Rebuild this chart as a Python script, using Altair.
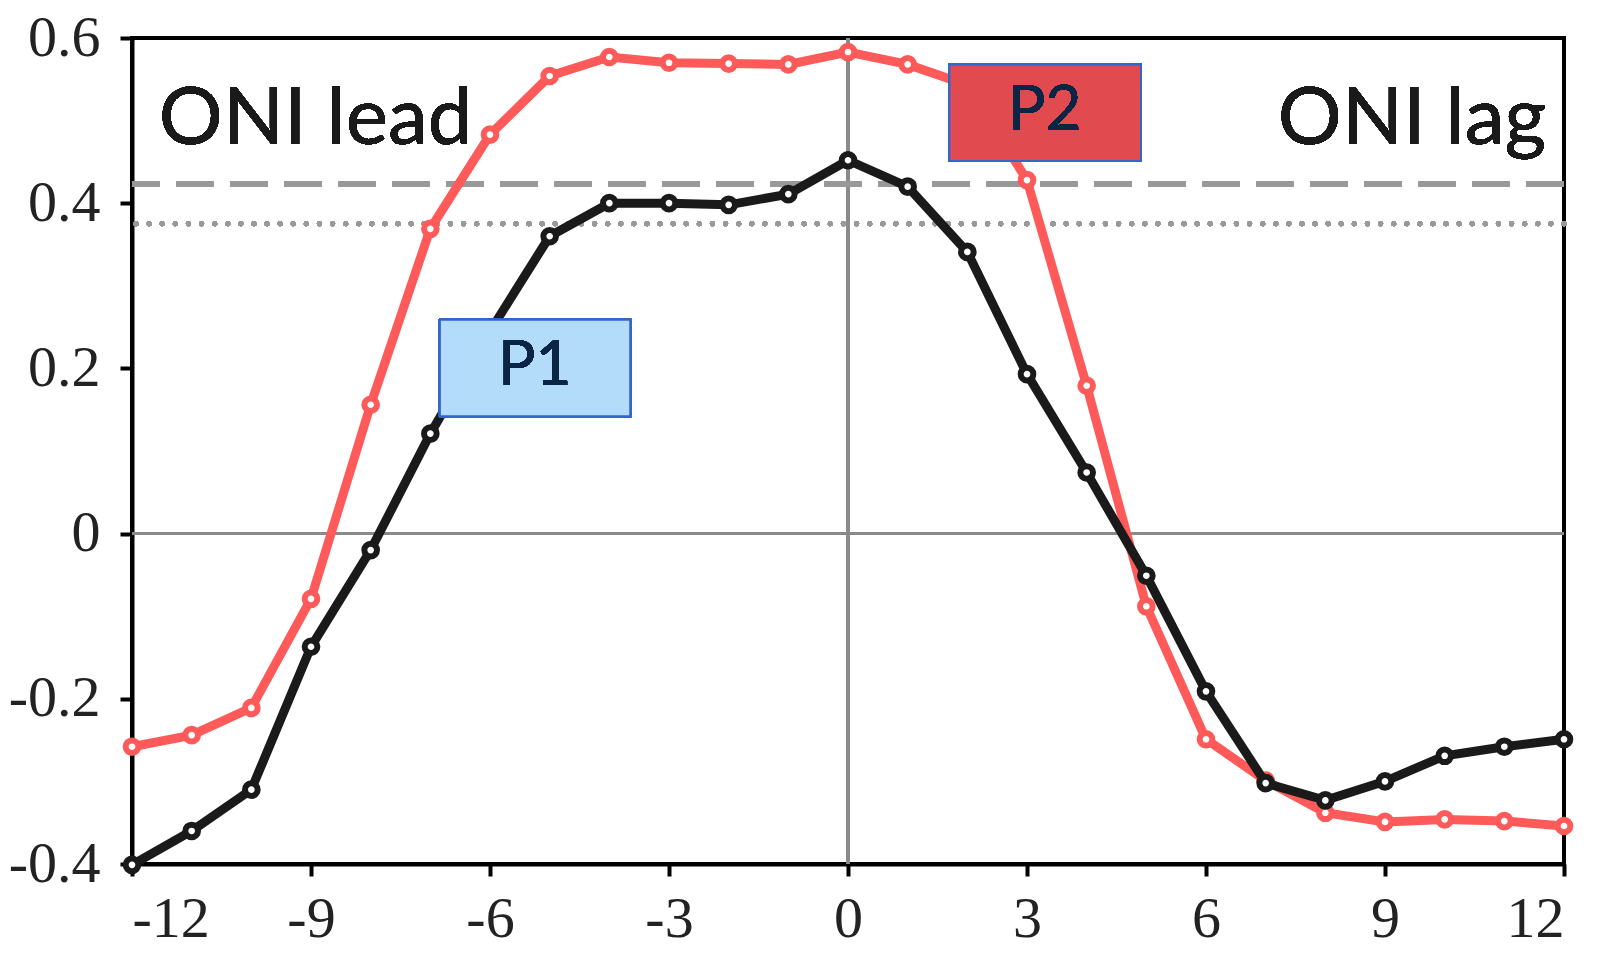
import altair as alt
import pandas as pd

lags = list(range(-12, 13))
red_vals = [-0.258, -0.244, -0.211, -0.079, 0.156, 0.369, 0.483, 0.554, 0.577, 0.570,
            0.569, 0.568, 0.583, 0.568, 0.543, 0.428, 0.179, -0.088, -0.249, -0.299,
            -0.338, -0.349, -0.346, -0.348, -0.354]
black_vals = [-0.401, -0.360, -0.310, -0.137, -0.020, 0.121, 0.245, 0.360, 0.400, 0.400,
              0.398, 0.411, 0.452, 0.420, 0.341, 0.193, 0.074, -0.051, -0.191, -0.302,
              -0.323, -0.300, -0.269, -0.258, -0.249]
dashed_level = 0.423
dotted_level = 0.375
x_ticks = [-12, -9, -6, -3, 0, 3, 6, 9, 12]
y_ticks = [-0.4, -0.2, 0, 0.2, 0.4, 0.6]

red_df = pd.DataFrame({"lag": lags, "corr": red_vals})
black_df = pd.DataFrame({"lag": lags, "corr": black_vals})

xscale = alt.Scale(domain=[-12, 12], nice=False, zero=False)
yscale = alt.Scale(domain=[-0.4, 0.6], nice=False, zero=False)

X = alt.X("lag:Q", scale=xscale, title=None,
          axis=alt.Axis(values=x_ticks, grid=False,
                        labelExpr="replace(format(datum.value, 'd'), '\u2212', '-')"))
Y = alt.Y("corr:Q", scale=yscale, title=None,
          axis=alt.Axis(values=y_ticks, grid=False,
                        labelExpr="datum.value == 0 ? '0' : replace(format(datum.value, '.1f'), '\u2212', '-')"))

RED = "#ff5a5a"
BLK = "#1a1a1a"

base_red = alt.Chart(red_df).encode(x=X, y=Y)
base_blk = alt.Chart(black_df).encode(x=X, y=Y)

zero_h = alt.Chart(red_df).mark_rule(color="#8a8a8a", strokeWidth=3).encode(y=alt.datum(0))
zero_v = alt.Chart(red_df).mark_rule(color="#8a8a8a", strokeWidth=3).encode(x=alt.datum(0))
dash_rule = alt.Chart(red_df).mark_rule(color="#999999", strokeWidth=5, strokeDash=[38, 16]).encode(y=alt.datum(dashed_level))
dot_rule = alt.Chart(red_df).mark_rule(color="#999999", strokeWidth=5, strokeDash=[0.1, 13], strokeCap="round").encode(y=alt.datum(dotted_level))

red_line = base_red.mark_line(color=RED, strokeWidth=9)
red_pts = base_red.mark_point(filled=True, fill="white", stroke=RED, strokeWidth=6, size=160, opacity=1)
blk_line = base_blk.mark_line(color=BLK, strokeWidth=9)
blk_pts = base_blk.mark_point(filled=True, fill="white", stroke=BLK, strokeWidth=6, size=160, opacity=1)

p1_box = alt.Chart(red_df).mark_rect(fill="#b3dcfb", stroke="#3366cc", strokeWidth=2).encode(
    x=alt.datum(-6.84), x2=alt.datum(-3.65), y=alt.datum(0.259), y2=alt.datum(0.142))
p2_box = alt.Chart(red_df).mark_rect(fill="#e04a4e", fillOpacity=0.88, stroke="#3366cc", strokeWidth=2).encode(
    x=alt.datum(1.70), x2=alt.datum(4.91), y=alt.datum(0.568), y2=alt.datum(0.451))

txt_kw = dict(font="Lato", color="#0b2545", fontSize=62, align="center", baseline="middle")
p1_txt = alt.Chart(red_df).mark_text(text="P1", **txt_kw).encode(x=alt.datum(-5.25), y=alt.datum(0.203))
p2_txt = alt.Chart(red_df).mark_text(text="P2", **txt_kw).encode(x=alt.datum(3.30), y=alt.datum(0.512))

lead_txt = alt.Chart(red_df).mark_text(text="ONI lead", font="Lato", fontSize=80, color="#1a1a1a",
                                        align="left", baseline="alphabetic").encode(
    x=alt.datum(-11.55), y=alt.datum(0.472))
lag_txt = alt.Chart(red_df).mark_text(text="ONI lag", font="Lato", fontSize=80, color="#1a1a1a",
                                       align="right", baseline="alphabetic").encode(
    x=alt.datum(11.7), y=alt.datum(0.472))

chart = alt.layer(
    zero_h, zero_v, dash_rule, dot_rule,
    red_line, red_pts, blk_line, blk_pts,
    p1_box, p1_txt, p2_box, p2_txt, lead_txt, lag_txt,
).properties(
    width=1432, height=826,
    padding={"left": 124, "top": 30, "right": 26, "bottom": 100},
    autosize=alt.AutoSizeParams(type="none"),
    background="white",
).configure_view(
    stroke="black", strokeWidth=4
).configure_axis(
    domainColor="black", domainWidth=4, tickColor="black", tickWidth=4, tickSize=12,
    labelFont="Liberation Serif", labelFontSize=58, labelColor="#222222"
).configure_axisY(
    labelPadding=20
).configure_axisX(
    labelPadding=14
)

chart.save("out.html", embed_options={"renderer": "svg", "actions": False})
